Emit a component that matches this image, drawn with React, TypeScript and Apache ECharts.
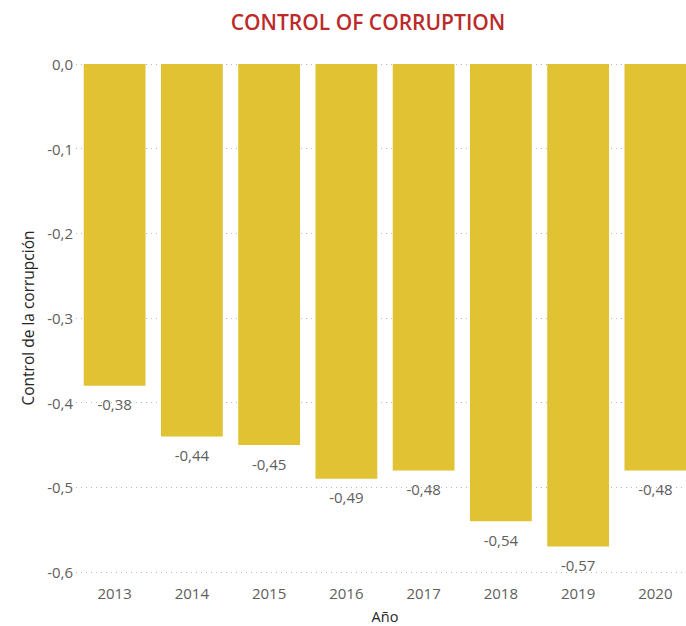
import React, { useEffect, useRef } from "react";
import * as echarts from "echarts";

const years = ["2013", "2014", "2015", "2016", "2017", "2018", "2019", "2020"];
const values = [-0.38, -0.44, -0.45, -0.49, -0.48, -0.54, -0.57, -0.48];
const titleText = "CONTROL OF CORRUPTION";
const xName = "Año";
const yName = "Control de la corrupción";

const fmt = (v: number, d: number) => {
  const s = Math.abs(v) < 1e-9 ? (0).toFixed(d) : v.toFixed(d);
  return s.replace(".", ",");
};

export default function App() {
  const ref = useRef<HTMLDivElement>(null);
  useEffect(() => {
    if (!ref.current) return;
    const chart = echarts.init(ref.current, undefined, { renderer: "svg" });
    const font = "'Open Sans', 'Noto Sans', sans-serif";
    chart.setOption({
      animation: false,
      backgroundColor: "#ffffff",
      title: {
        text: titleText,
        left: 363,
        textAlign: "center",
        top: 6,
        textStyle: {
          color: "#BC2A2A",
          fontFamily: font,
          fontWeight: 600,
          fontSize: 21,
        },
      },
      grid: {
        left: 76,
        top: 64,
        width: 618,
        height: 508,
        containLabel: false,
        outerBoundsMode: "none",
      },
      xAxis: {
        type: "category",
        data: years,
        position: "bottom",
        name: xName,
        nameLocation: "middle",
        nameGap: 37,
        nameTextStyle: { color: "#252423", fontFamily: font, fontSize: 14.5 },
        axisLine: { show: false },
        axisTick: { show: false },
        axisLabel: { color: "#605E5C", fontFamily: font, fontSize: 15, margin: 13 },
      },
      yAxis: {
        type: "value",
        min: -0.6,
        max: 0,
        interval: 0.1,
        name: yName,
        nameLocation: "middle",
        nameGap: 38,
        nameRotate: 90,
        nameTextStyle: { color: "#252423", fontFamily: font, fontSize: 15.5 },
        axisLine: { show: false },
        axisTick: { show: false },
        axisLabel: {
          color: "#605E5C",
          fontFamily: font,
          fontSize: 15,
          margin: 3,
          formatter: (v: number) => fmt(v, 1),
        },
        splitLine: {
          show: true,
          lineStyle: { color: "#B8B8B8", type: [1, 4], width: 1 },
        },
      },
      series: [
        {
          type: "bar",
          data: values,
          barCategoryGap: "20%",
          itemStyle: { color: "#E0C233" },
          label: {
            show: true,
            position: "bottom",
            distance: 11,
            color: "#605E5C",
            fontFamily: font,
            fontSize: 15,
            formatter: (p: any) => fmt(p.value, 2),
          },
        },
      ],
    });
    return () => chart.dispose();
  }, []);
  return (
    <div
      ref={ref}
      style={{ position: "absolute", left: 0, top: 0, width: 686, height: 626, overflow: "hidden" }}
    />
  );
}
